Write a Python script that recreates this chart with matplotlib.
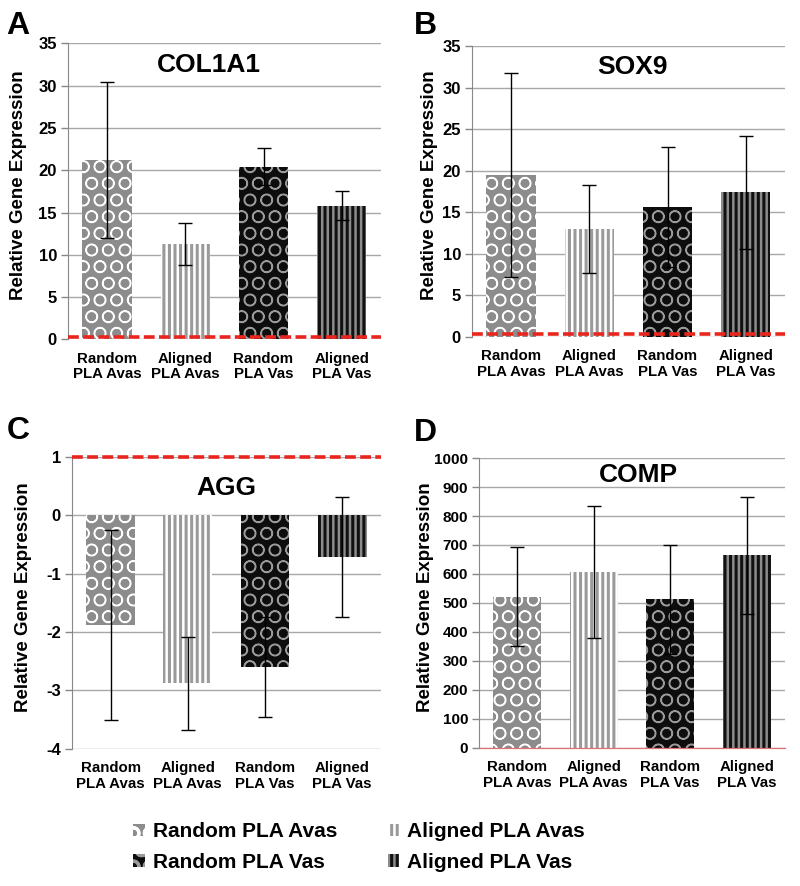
import matplotlib
matplotlib.use('Agg')
import matplotlib.pyplot as plt
import numpy as np

plt.rcParams['font.family'] = ['Liberation Sans', 'DejaVu Sans']
plt.rcParams['font.weight'] = 'bold'
plt.rcParams['axes.labelweight'] = 'bold'
plt.rcParams['axes.unicode_minus'] = False

groups = ['Random\nPLA Avas', 'Aligned\nPLA Avas', 'Random\nPLA Vas', 'Aligned\nPLA Vas']
legend_names = ['Random PLA Avas', 'Aligned PLA Avas', 'Random PLA Vas', 'Aligned PLA Vas']

col1a1_mean = [21.2, 11.3, 20.4, 15.8]
col1a1_err = [9.2, 2.5, 2.2, 1.7]
sox9_mean = [19.5, 13.0, 15.6, 17.4]
sox9_err = [12.3, 5.3, 7.2, 6.8]
agg_mean = [-1.88, -2.88, -2.60, -0.72]
agg_err = [1.63, 0.80, 0.86, 1.03]
comp_mean = [522, 606, 512, 664]
comp_err = [170, 227, 187, 203]

# bar looks: face colour, hatch colour, hatch, hatch line width
faces = ['#8c8c8c', 'white', '#0d0d0d', '#8c8c8c']
hatch_cols = ['white', '#9a9a9a', '#9a9a9a', '#111111']
hatches = ['O', '|||', 'O', '|||']
hatch_lw = [1.0, 2.2, 1.0, 2.2]

panels = [
    # letter, title, mean, err, ylim, step, control, rect, title pos, label x
    ('A', 'COL1A1', col1a1_mean, col1a1_err, (0, 35), 5, 0.3,
     [0.085, 0.617, 0.391, 0.334], (0.45, 0.926), -0.13),
    ('B', 'SOX9', sox9_mean, sox9_err, (0, 35), 5, 0.3,
     [0.59, 0.620, 0.391, 0.328], (0.514, 0.928), -0.11),
    ('C', 'AGG', agg_mean, agg_err, (-4, 1), 1, 1,
     [0.09, 0.155, 0.386, 0.329], (0.50, 0.894), -0.13),
    ('D', 'COMP', comp_mean, comp_err, (0, 1000), 100, 0,
     [0.599, 0.156, 0.382, 0.327], (0.52, 0.94), -0.147),
]
letter_pos = {'A': (0.008, 0.988), 'B': (0.517, 0.988), 'C': (0.008, 0.531), 'D': (0.517, 0.528)}

fig = plt.figure(figsize=(8, 8.86), dpi=100)
handles = []
for letter, title, mean, err, ylim, step, ctrl, rect, tpos, lx in panels:
    ax = fig.add_axes(rect)
    x = np.arange(len(groups))
    bars = []
    for i in range(len(groups)):
        plt.rcParams['hatch.linewidth'] = hatch_lw[i]
        b = ax.bar(x[i], mean[i], width=0.63, color=faces[i], edgecolor=hatch_cols[i],
                   linewidth=0, hatch=hatches[i], zorder=2)
        if hasattr(b[0], 'set_hatch_linewidth'):
            b[0].set_hatch_linewidth(hatch_lw[i])
        bars.append(b[0])
    ax.errorbar(x, mean, yerr=err, fmt='none', ecolor='black', elinewidth=1,
                capsize=5, capthick=1, zorder=3)
    if letter == 'D':
        ax.axhline(ctrl, color='#e07070', lw=0.9, zorder=4, clip_on=False)
    else:
        ax.axhline(ctrl, color='#e8261e', lw=2.6, ls=(0, (3, 1.2)), zorder=4, clip_on=False)
    ax.set_xlim(-0.5, 3.5)
    ax.set_ylim(*ylim)
    yt = np.arange(ylim[0], ylim[1] + step / 2, step)
    ax.set_yticks(yt)
    ax.set_yticklabels(['%d' % v for v in yt], fontweight='bold',
                       fontsize=11 if letter == 'D' else 12)
    ax.set_xticks(x)
    ax.set_xticklabels(groups, fontsize=10.8, linespacing=1.15, fontweight='bold')
    ax.tick_params(axis='x', length=0, pad=9)
    ax.tick_params(axis='y', length=5, color='#888888', width=1, pad=3)
    ax.yaxis.grid(True, color='#a8a8a8', lw=1)
    ax.set_axisbelow(True)
    for s in ['top', 'right', 'bottom']:
        ax.spines[s].set_visible(False)
    ax.spines['left'].set_color('#888888')
    ax.set_ylabel('Relative Gene Expression', fontsize=13.5, fontweight='bold')
    ax.yaxis.set_label_coords(lx, 0.52)
    ax.text(tpos[0], tpos[1], title, transform=ax.transAxes, ha='center', va='center',
            fontsize=19, fontweight='bold')
    fig.text(letter_pos[letter][0], letter_pos[letter][1], letter, fontsize=23,
             fontweight='bold', ha='left', va='top')
    if not handles:
        handles = bars

order = [0, 2, 1, 3]
fig.legend([handles[i] for i in order], [legend_names[i] for i in order],
           loc='center', bbox_to_anchor=(0.449, 0.044), ncol=2, frameon=False,
           prop={'size': 15, 'weight': 'bold'}, handlelength=0.55, handleheight=0.55,
           handletextpad=0.4, columnspacing=2.4, labelspacing=0.55)

fig.savefig('out.png', dpi=100)
